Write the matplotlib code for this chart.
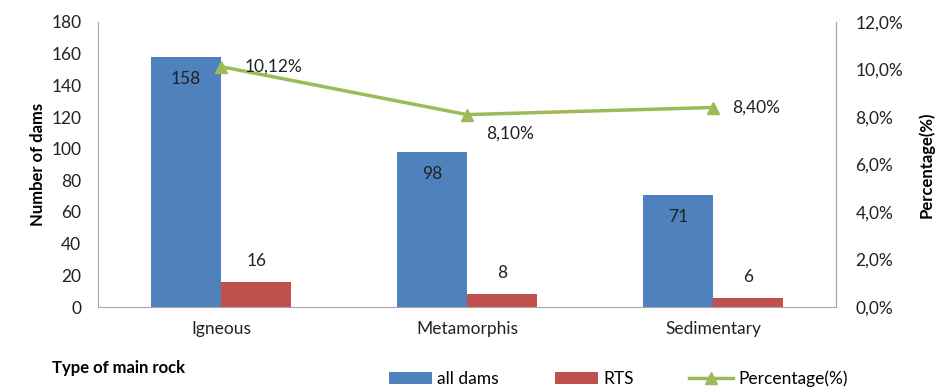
import matplotlib.pyplot as plt
import numpy as np

# Data
rocks = ['Igneous', 'Metamorphis', 'Sedimentary']
all_dams = [158, 98, 71]
rts = [16, 8, 6]
percentage = [10.12, 8.10, 8.40]
pct_labels = ['10,12%', '8,10%', '8,40%']
left_ticks = [0, 20, 40, 60, 80, 100, 120, 140, 160, 180]
right_ticks = [0, 2, 4, 6, 8, 10, 12]
right_labels = ['0,0%', '2,0%', '4,0%', '6,0%', '8,0%', '10,0%', '12,0%']

plt.rcParams['font.family'] = ['Lato', 'DejaVu Sans']
blue, red, green = '#4F81BD', '#C0504D', '#9BBB59'
grey = '#A6A6A6'
fs = 12.5

fig = plt.figure(figsize=(9.38, 3.89), dpi=100)
ax = fig.add_axes([98 / 938, 82 / 389, 738 / 938, 285 / 389])
x = np.arange(len(rocks))
w = 0.286

b1 = ax.bar(x - w / 2, all_dams, width=w, color=blue, label='all dams')
b2 = ax.bar(x + w / 2, rts, width=w, color=red, label='RTS')

# bar labels (inside end for all dams, above for RTS)
for xi, v in zip(x, all_dams):
    ax.annotate(str(v), (xi - w / 2, v), xytext=(0, -16), textcoords='offset points',
                ha='center', va='center', fontsize=fs, color='#222222')
for xi, v in zip(x, rts):
    ax.annotate(str(v), (xi + w / 2, v), xytext=(0, 15), textcoords='offset points',
                ha='center', va='center', fontsize=fs, color='#222222')

ax.set_xlim(-0.5, 2.5)
ax.set_ylim(0, 180)
ax.set_yticks(left_ticks)
ax.set_xticks(x)
ax.set_xticklabels(rocks)
ax.tick_params(axis='both', length=0, labelsize=fs, colors='#222222')
ax.tick_params(axis='y', pad=12)
ax.tick_params(axis='x', pad=10)
ax.set_ylabel('Number of dams', fontsize=12, fontweight='bold', labelpad=4)
ax.spines['top'].set_visible(False)
for s in ['left', 'bottom', 'right']:
    ax.spines[s].set_color(grey)

ax2 = ax.twinx()
ln, = ax2.plot(x, percentage, color=green, linewidth=2.5, marker='^', markersize=8,
               label='Percentage(%)')
ax2.set_ylim(0, 12)
ax2.set_yticks(right_ticks)
ax2.set_yticklabels(right_labels)
ax2.tick_params(axis='y', length=0, labelsize=fs, colors='#222222', pad=14)
ax2.set_ylabel('Percentage(%)', fontsize=12, fontweight='bold', labelpad=11)
for s in ['top', 'left', 'bottom']:
    ax2.spines[s].set_visible(False)
ax2.spines['right'].set_color(grey)

for xi, v, lab, off in zip(x, percentage, pct_labels, [(17, 0), (14, -14), (14, 0)]):
    ax2.annotate(lab, (xi, v), xytext=off, textcoords='offset points',
                 ha='left', va='center', fontsize=fs, color='#222222')

fig.text(52 / 938, 0.055, 'Type of main rock', fontsize=12, fontweight='bold', va='center')
fig.legend([b1, b2, ln], ['all dams', 'RTS', 'Percentage(%)'], loc='center',
           bbox_to_anchor=(0.659, 0.026), ncol=3, frameon=False, fontsize=fs,
           handlelength=2.5, columnspacing=3.2, handletextpad=0.3)

plt.savefig('out.png')
